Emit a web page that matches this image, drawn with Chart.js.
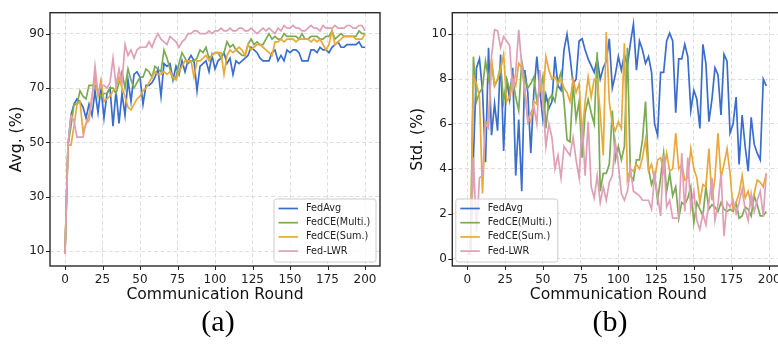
<!DOCTYPE html>
<html>
<head>
<meta charset="utf-8">
<title>FedAvg vs FedCE vs Fed-LWR</title>
<script src="https://cdn.jsdelivr.net/npm/chart.js@4.4.0/dist/chart.umd.min.js"></script>
<style>
  html, body { margin: 0; padding: 0; background: #fff; overflow: hidden; }
  #wrap { position: relative; width: 778px; height: 354px; overflow: hidden; }
  canvas { position: absolute; top: 0; }
  #chartA { left: 0; }
  #chartB { left: 390px; }
  .cap { position: absolute; top: 304px; width: 80px; text-align: center;
         font-family: "Liberation Serif", "Times New Roman", serif; font-size: 30px; color: #000; }
</style>
</head>
<body>
<div id="wrap">
  <canvas id="chartA" width="390" height="310"></canvas>
  <canvas id="chartB" width="400" height="310"></canvas>
  <div class="cap" style="left:178px">(a)</div>
  <div class="cap" style="left:570px">(b)</div>
</div>
<script>
// ---- data ----
const seriesNames = ['FedAvg', 'FedCE(Multi.)', 'FedCE(Sum.)', 'Fed-LWR'];
const seriesColors = ['#3a6dcc', '#7aaa52', '#e8a93a', '#dfa0b6'];
const roundTicks = [0, 25, 50, 75, 100, 125, 150, 175, 200];
const avgTicks = [10, 30, 50, 70, 90];
const stdTicks = [0, 2, 4, 6, 8, 10];

// rounds every 2: 0..200 for (a), 0..198 for (b)
const avgRounds = Array.from({ length: 101 }, (_, i) => i * 2);
const stdRounds = Array.from({ length: 100 }, (_, i) => i * 2);

// (a) Avg. (%)
const avgFedAvg = [
  9, 49, 60, 64, 66, 65, 63, 59, 64, 60,
  69, 61, 70, 59, 68, 70, 56, 69, 57, 68,
  60, 73, 65, 75, 76, 74, 64, 71, 71, 72,
  74, 77, 67, 79, 78, 79, 73, 78, 75, 80,
  76, 80, 82, 80, 69, 78, 79, 80, 76, 82,
  77, 80, 81, 83, 79, 81, 75, 80, 79, 80,
  81, 82, 85, 84, 83, 81, 80, 80, 80, 83,
  84, 80, 82, 80, 84, 83, 84, 84, 83, 80,
  80, 80, 84, 84, 83, 85, 84, 84, 83, 85,
  86, 87, 85, 85, 86, 86, 86, 86, 87, 85,
  85
];
const avgMulti = [
  9, 49, 56, 64, 64, 69, 67, 66, 71, 71,
  71, 69, 67, 68, 68, 70, 70, 68, 72, 76,
  70, 77, 73, 70, 72, 74, 74, 77, 76, 74,
  78, 77, 76, 84, 81, 77, 73, 74, 79, 83,
  81, 79, 80, 80, 81, 84, 83, 85, 81, 82,
  83, 83, 81, 83, 87, 85, 86, 84, 83, 82,
  82, 86, 88, 86, 87, 86, 86, 88, 90, 88,
  89, 88, 88, 90, 89, 89, 89, 89, 88, 90,
  88, 88, 89, 89, 89, 88, 88, 89, 89, 91,
  88, 89, 90, 89, 89, 89, 89, 89, 91, 90,
  90
];
const avgSum = [
  9, 49, 49, 56, 64, 65, 54, 57, 60, 67,
  74, 67, 73, 65, 66, 67, 69, 70, 74, 70,
  67, 63, 62, 64, 66, 67, 69, 70, 72, 74,
  76, 75, 75, 76, 75, 76, 74, 73, 76, 78,
  80, 80, 80, 74, 80, 80, 81, 82, 80, 82,
  83, 83, 83, 75, 82, 84, 83, 84, 85, 84,
  82, 86, 84, 85, 86, 86, 85, 84, 83, 82,
  87, 87, 88, 87, 88, 88, 88, 87, 88, 88,
  88, 88, 87, 88, 87, 88, 86, 84, 86, 91,
  86, 87, 88, 89, 89, 89, 89, 88, 88, 88,
  90
];
const avgLWR = [
  9, 49, 60, 58, 52, 52, 52, 57, 58, 66,
  78, 68, 71, 71, 70, 72, 81, 71, 77, 72,
  86, 82, 84, 81, 84, 85, 85, 85, 87, 85,
  88, 90, 88, 87, 86, 89, 88, 87, 85, 87,
  88, 90, 90, 91, 91, 90, 90, 90, 91, 90,
  91, 91, 92, 91, 91, 92, 91, 91, 92, 92,
  91, 91, 92, 91, 90, 91, 92, 91, 92, 91,
  90, 92, 91, 93, 92, 92, 93, 92, 92, 91,
  91, 92, 93, 92, 92, 91, 93, 92, 92, 92,
  93, 92, 92, 92, 93, 93, 92, 92, 93, 93,
  91
];

// (b) Std. (%)
const stdFedAvg = [
  0.2, 0.3, 4.5, 8.5, 8.9, 7.5, 4.3, 9.4, 5.5, 6.9,
  5.7, 9.1, 4.8, 8.0, 7.1, 8.5, 3.7, 6.2, 3.0, 8.4,
  7.4, 4.7, 7.4, 9.0, 7.5, 6.2, 7.3, 6.7, 7.0, 9.0,
  7.7, 7.5, 9.3, 10.0, 9.0, 7.8, 8.0, 9.7, 9.8, 9.3,
  8.9, 8.6, 8.3, 8.9, 8.0, 8.5, 8.8, 9.8, 7.6, 8.2,
  9.0, 8.4, 9.1, 8.6, 9.6, 10.45, 8.4, 9.7, 9.3, 8.7,
  9.0, 8.3, 6.0, 5.5, 8.3, 8.3, 9.7, 10.05, 9.7, 6.5,
  8.9, 8.9, 9.55, 9.0, 6.6, 7.5, 7.1, 5.8, 9.55, 8.7,
  6.1, 7.1, 8.5, 8.2, 6.4, 9.1, 8.8, 5.6, 6.0, 7.2,
  4.2, 6.4, 5.0, 3.9, 6.3, 5.1, 4.7, 4.4, 8.0, 7.7
];
const stdMulti = [
  0.2, 0.3, 9.0, 7.0, 7.4, 7.6, 8.8, 8.0, 8.7, 7.7,
  8.0, 8.6, 7.0, 8.0, 7.5, 8.0, 7.2, 6.6, 8.8, 8.0,
  7.6, 7.8, 8.1, 7.0, 7.5, 8.1, 5.8, 7.1, 7.3, 7.0,
  7.9, 8.3, 7.0, 5.3, 5.2, 7.8, 6.2, 7.0, 4.5, 6.5,
  7.1, 6.5, 6.0, 9.2, 3.0, 3.8, 3.8, 4.2, 6.6, 4.4,
  5.0, 4.4, 5.0, 9.4, 3.7, 3.5, 4.4, 4.4, 5.3, 7.0,
  4.0, 3.3, 3.7, 2.6, 3.6, 4.7, 3.0, 3.8, 2.8, 3.2,
  1.8, 2.5, 2.4, 2.7, 3.2, 1.6, 2.5, 2.2, 1.9, 3.2,
  2.2, 2.4, 2.3, 2.1, 2.5, 2.2, 2.1, 2.2, 2.1, 2.5,
  1.8, 1.9, 2.3, 2.2, 1.9, 2.8, 2.4, 1.9, 1.9, 2.1
];
const stdSum = [
  0.2, 0.3, 8.1, 7.8, 7.2, 2.9, 6.1, 6.0, 8.9, 7.7,
  8.0, 8.4, 9.1, 7.0, 7.2, 8.0, 7.7, 8.7, 8.5, 7.6,
  6.2, 6.1, 7.0, 6.9, 7.7, 7.1, 9.0, 8.4, 8.0, 8.1,
  7.8, 8.0, 7.6, 7.4, 7.0, 8.0, 7.4, 7.8, 5.5, 7.0,
  8.1, 7.2, 8.0, 8.0, 6.5, 4.6, 10.1, 7.0, 6.0, 5.7,
  6.1, 5.8, 9.6, 3.5, 4.0, 3.9, 4.2, 4.0, 4.5, 5.3,
  3.9, 4.2, 3.5, 4.4, 4.5, 3.9, 4.7, 3.9, 4.0, 5.6,
  4.0, 4.2, 3.5, 3.6, 4.9, 4.0, 3.6, 2.5, 3.3, 3.2,
  4.9, 2.6, 3.6, 5.6, 3.6, 4.2, 4.9, 3.8, 2.2, 2.5,
  2.9, 3.7, 2.7, 3.0, 2.4, 2.9, 3.5, 3.4, 3.2, 3.8
];
const stdLWR = [
  0.2, 0.2, 4.5, 1.2, 3.6, 3.7, 6.0, 5.8, 9.0, 10.2,
  10.15, 9.4, 9.9, 9.7, 9.5, 7.5, 8.3, 10.2, 8.6, 7.5,
  6.1, 6.5, 6.8, 6.0, 8.4, 7.0, 5.0, 6.0, 5.4, 4.0,
  4.6, 3.6, 5.0, 4.8, 4.6, 5.4, 4.4, 3.6, 6.0, 3.7,
  6.1, 3.2, 2.7, 3.7, 2.5, 3.2, 2.6, 3.4, 3.7, 5.2,
  4.2, 2.9, 2.6, 3.0, 4.0, 3.0, 2.9, 2.8, 2.6, 2.6,
  2.6, 2.2, 3.7, 2.8, 1.9, 4.6, 2.3, 2.6, 1.8, 1.8,
  1.8, 4.7, 2.1, 4.5, 2.2, 3.0, 1.7, 1.3, 2.0, 1.5,
  2.5, 3.6, 1.7, 2.4, 3.8, 1.0, 2.5, 2.3, 2.6, 2.0,
  2.5, 3.1, 2.2, 1.7, 2.9, 2.1, 2.6, 3.0, 1.9, 3.8
];

const FONT = '"DejaVu Sans", Verdana, sans-serif';

// frame, outward tick marks and the in-axes legend (matplotlib look)
const framePlugin = {
  id: 'frame',
  afterDraw(chart, args, opts) {
    const ctx = chart.ctx;
    const a = chart.chartArea;
    ctx.save();
    ctx.strokeStyle = '#222';
    ctx.lineWidth = 1;
    ['x', 'y'].forEach(id => {
      const s = chart.scales[id];
      s.ticks.forEach(t => {
        const p = Math.round(s.getPixelForValue(t.value)) + 0.5;
        ctx.beginPath();
        if (id === 'x') { ctx.moveTo(p, a.bottom); ctx.lineTo(p, a.bottom + 4); }
        else { ctx.moveTo(a.left, p); ctx.lineTo(a.left - 4, p); }
        ctx.stroke();
      });
    });
    ctx.strokeStyle = '#2a2a2a';
    ctx.lineWidth = 1.4;
    ctx.strokeRect(a.left, a.top, a.right - a.left, a.bottom - a.top);

    // legend
    const w = 102, h = 63;
    const lx = opts.side === 'left' ? a.left + 3.5 : a.right - 4 - w;
    const ly = a.bottom - 4 - h;
    ctx.beginPath();
    ctx.roundRect(lx, ly, w, h, 2.5);
    ctx.fillStyle = 'rgba(255,255,255,0.8)';
    ctx.fill();
    ctx.strokeStyle = '#cccccc';
    ctx.lineWidth = 1;
    ctx.stroke();
    ctx.font = '9.7px ' + FONT;
    ctx.textBaseline = 'middle';
    chart.data.datasets.forEach((ds, i) => {
      const yy = ly + 9.5 + i * 14.2;
      ctx.strokeStyle = ds.borderColor;
      ctx.lineWidth = 1.7;
      ctx.beginPath();
      ctx.moveTo(lx + 4.5, yy);
      ctx.lineTo(lx + 24, yy);
      ctx.stroke();
      ctx.fillStyle = '#222';
      ctx.fillText(ds.label, lx + 32, yy);
    });
    ctx.restore();
  }
};

function buildChart(id, rounds, values, cfg) {
  const datasets = values.map((vals, i) => ({
    label: seriesNames[i],
    data: rounds.map((r, j) => ({ x: r, y: vals[j] })),
    borderColor: seriesColors[i],
    backgroundColor: seriesColors[i],
    borderWidth: 1.7,
    pointRadius: 0,
    tension: 0,
    fill: false,
    order: values.length - i
  }));
  return new Chart(document.getElementById(id), {
    type: 'line',
    data: { datasets },
    options: {
      responsive: false,
      animation: false,
      events: [],
      layout: { padding: { left: 0, top: 4, right: cfg.padRight, bottom: 0 } },
      plugins: {
        legend: { display: false },
        tooltip: { enabled: false },
        frame: { side: cfg.legendSide }
      },
      scales: {
        x: {
          type: 'linear',
          min: -10,
          max: 210,
          afterBuildTicks: s => { s.ticks = roundTicks.map(v => ({ value: v })); },
          afterFit: s => { s.height = 44; },
          ticks: { autoSkip: false, maxRotation: 0, padding: 7, color: '#222',
                   font: { family: FONT, size: 12 } },
          grid: { color: '#d6d6d6', lineWidth: 0.8, drawTicks: false },
          border: { display: false, dash: [4, 2.5] },
          title: { display: true, text: 'Communication Round', color: '#111',
                   font: { family: FONT, size: 15.6 }, padding: { top: 0, bottom: 5.6 } }
        },
        y: {
          type: 'linear',
          min: cfg.yMin,
          max: cfg.yMax,
          afterBuildTicks: s => { s.ticks = cfg.yTicks.map(v => ({ value: v })); },
          afterFit: s => { s.width = cfg.yWidth; },
          ticks: { padding: 5.5, color: '#222', font: { family: FONT, size: 12 } },
          grid: { color: '#d6d6d6', lineWidth: 0.8, drawTicks: false },
          border: { display: false, dash: [4, 2.5] },
          title: { display: true, text: cfg.yTitle, color: '#111',
                   font: { family: FONT, size: 15.6 }, padding: { top: cfg.titlePad, bottom: 0 } }
        }
      }
    },
    plugins: [framePlugin]
  });
}

buildChart('chartA', avgRounds, [avgFedAvg, avgMulti, avgSum, avgLWR], {
  yMin: 4.6, yMax: 97.7, yTicks: avgTicks, yTitle: 'Avg. (%)',
  yWidth: 50, titlePad: 7.1, padRight: 10, legendSide: 'right'
});
buildChart('chartB', stdRounds, [stdFedAvg, stdMulti, stdSum, stdLWR], {
  yMin: -0.33, yMax: 10.96, yTicks: stdTicks, yTitle: 'Std. (%)',
  yWidth: 62.3, titlePad: 18.9, padRight: 5.6, legendSide: 'left'
});
</script>
</body>
</html>
